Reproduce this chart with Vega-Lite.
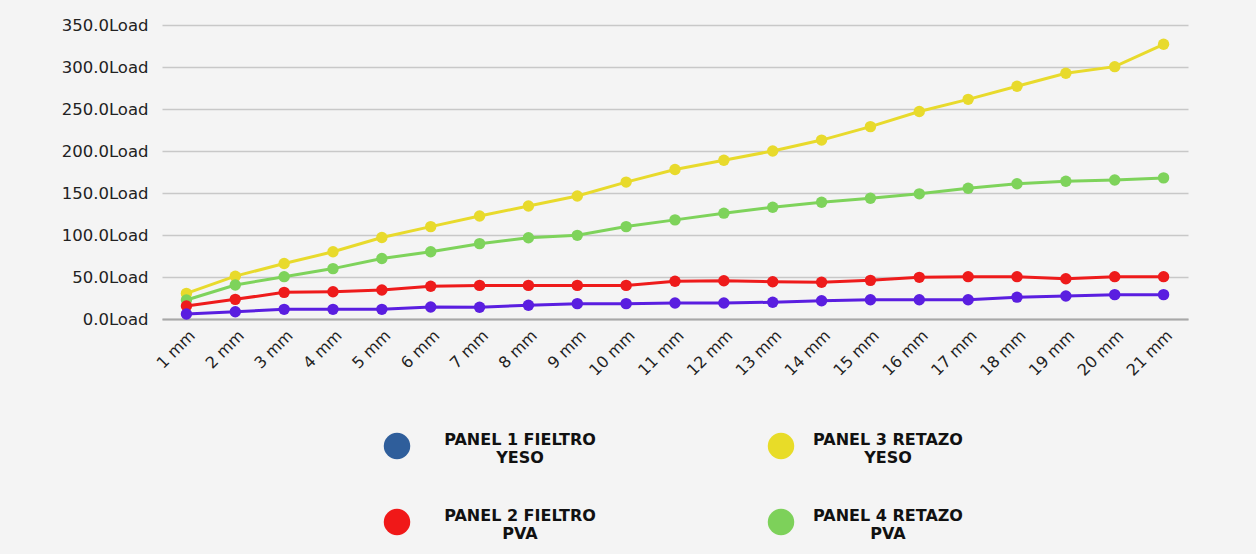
{
  "$schema": "https://vega.github.io/schema/vega-lite/v6.json",
  "width": 1026,
  "height": 294,
  "autosize": {"type": "none"},
  "padding": {"left": 162, "top": 25, "right": 68, "bottom": 235},
  "background": "#f4f4f4",
  "config": {"view": {"stroke": null}, "font": "DejaVu Sans"},
  "datasets": {
    "loads": [
      {"panel": "P3", "d": 1, "v": 30.5}, {"panel": "P3", "d": 2, "v": 51}, {"panel": "P3", "d": 3, "v": 66}, {"panel": "P3", "d": 4, "v": 80}, {"panel": "P3", "d": 5, "v": 97}, {"panel": "P3", "d": 6, "v": 110}, {"panel": "P3", "d": 7, "v": 122.6}, {"panel": "P3", "d": 8, "v": 134.5}, {"panel": "P3", "d": 9, "v": 146.4}, {"panel": "P3", "d": 10, "v": 163}, {"panel": "P3", "d": 11, "v": 178}, {"panel": "P3", "d": 12, "v": 189}, {"panel": "P3", "d": 13, "v": 200}, {"panel": "P3", "d": 14, "v": 213}, {"panel": "P3", "d": 15, "v": 229}, {"panel": "P3", "d": 16, "v": 247}, {"panel": "P3", "d": 17, "v": 261.5}, {"panel": "P3", "d": 18, "v": 277}, {"panel": "P3", "d": 19, "v": 292.5}, {"panel": "P3", "d": 20, "v": 300.4}, {"panel": "P3", "d": 21, "v": 327},
      {"panel": "P4", "d": 1, "v": 22.6}, {"panel": "P4", "d": 2, "v": 40.5}, {"panel": "P4", "d": 3, "v": 50.4}, {"panel": "P4", "d": 4, "v": 60}, {"panel": "P4", "d": 5, "v": 72}, {"panel": "P4", "d": 6, "v": 80}, {"panel": "P4", "d": 7, "v": 89.7}, {"panel": "P4", "d": 8, "v": 96.8}, {"panel": "P4", "d": 9, "v": 99.6}, {"panel": "P4", "d": 10, "v": 110}, {"panel": "P4", "d": 11, "v": 118}, {"panel": "P4", "d": 12, "v": 126}, {"panel": "P4", "d": 13, "v": 133}, {"panel": "P4", "d": 14, "v": 139}, {"panel": "P4", "d": 15, "v": 143.7}, {"panel": "P4", "d": 16, "v": 149}, {"panel": "P4", "d": 17, "v": 155.6}, {"panel": "P4", "d": 18, "v": 161}, {"panel": "P4", "d": 19, "v": 164}, {"panel": "P4", "d": 20, "v": 165.5}, {"panel": "P4", "d": 21, "v": 168},
      {"panel": "P2", "d": 1, "v": 15.5}, {"panel": "P2", "d": 2, "v": 23.4}, {"panel": "P2", "d": 3, "v": 31.7}, {"panel": "P2", "d": 4, "v": 32.5}, {"panel": "P2", "d": 5, "v": 34.5}, {"panel": "P2", "d": 6, "v": 39}, {"panel": "P2", "d": 7, "v": 40}, {"panel": "P2", "d": 8, "v": 40}, {"panel": "P2", "d": 9, "v": 40}, {"panel": "P2", "d": 10, "v": 40}, {"panel": "P2", "d": 11, "v": 45}, {"panel": "P2", "d": 12, "v": 45.6}, {"panel": "P2", "d": 13, "v": 44.4}, {"panel": "P2", "d": 14, "v": 43.7}, {"panel": "P2", "d": 15, "v": 46}, {"panel": "P2", "d": 16, "v": 49.6}, {"panel": "P2", "d": 17, "v": 50.4}, {"panel": "P2", "d": 18, "v": 50.4}, {"panel": "P2", "d": 19, "v": 48}, {"panel": "P2", "d": 20, "v": 50.4}, {"panel": "P2", "d": 21, "v": 50.4},
      {"panel": "P1", "d": 1, "v": 6}, {"panel": "P1", "d": 2, "v": 8.7}, {"panel": "P1", "d": 3, "v": 11.5}, {"panel": "P1", "d": 4, "v": 11.5}, {"panel": "P1", "d": 5, "v": 11.5}, {"panel": "P1", "d": 6, "v": 14.3}, {"panel": "P1", "d": 7, "v": 14}, {"panel": "P1", "d": 8, "v": 16.3}, {"panel": "P1", "d": 9, "v": 18.3}, {"panel": "P1", "d": 10, "v": 18.3}, {"panel": "P1", "d": 11, "v": 19}, {"panel": "P1", "d": 12, "v": 19}, {"panel": "P1", "d": 13, "v": 20}, {"panel": "P1", "d": 14, "v": 21.8}, {"panel": "P1", "d": 15, "v": 23}, {"panel": "P1", "d": 16, "v": 23}, {"panel": "P1", "d": 17, "v": 23}, {"panel": "P1", "d": 18, "v": 26}, {"panel": "P1", "d": 19, "v": 27.4}, {"panel": "P1", "d": 20, "v": 29}, {"panel": "P1", "d": 21, "v": 29}
    ],
    "legend": [
      {"panel": "P1", "label": "PANEL 1 FIELTRO\nYESO", "col": "a", "row": "a"},
      {"panel": "P2", "label": "PANEL 2 FIELTRO\nPVA", "col": "a", "row": "b"},
      {"panel": "P3", "label": "PANEL 3 RETAZO\nYESO", "col": "b", "row": "a"},
      {"panel": "P4", "label": "PANEL 4 RETAZO\nPVA", "col": "b", "row": "b"}
    ]
  },
  "layer": [
    {
      "data": {"name": "loads"},
      "encoding": {
        "x": {
          "field": "d", "type": "ordinal",
          "scale": {"type": "point", "padding": 0.5},
          "axis": {"title": null, "labelExpr": "datum.value + ' mm'", "labelAngle": -45, "ticks": false, "grid": false, "domainColor": "#a8a8a8", "domainWidth": 2, "labelFontSize": 16, "labelColor": "#222222", "labelPadding": 8}
        },
        "y": {
          "field": "v", "type": "quantitative",
          "scale": {"domain": [0, 350], "nice": false},
          "axis": {"title": null, "values": [0, 50, 100, 150, 200, 250, 300, 350], "labelExpr": "format(datum.value, '.1f') + 'Load'", "domain": false, "ticks": false, "gridColor": "#c8c8c8", "gridWidth": 1.5, "labelFontSize": 16.5, "labelColor": "#222222", "labelPadding": 14}
        },
        "color": {
          "field": "panel", "type": "nominal",
          "scale": {"domain": ["P3", "P4", "P2", "P1"], "range": ["#e8da2c", "#7ed35b", "#ee1b1b", "#5a1ee0"]},
          "legend": null
        }
      },
      "layer": [
        {"mark": {"type": "line", "strokeWidth": 3}},
        {"mark": {"type": "circle", "size": 130, "opacity": 1}}
      ]
    },
    {
      "data": {"name": "legend"},
      "mark": {"type": "circle", "size": 700, "opacity": 1},
      "encoding": {
        "x": {"field": "col", "type": "nominal", "scale": {"type": "point", "padding": 0, "range": [235, 619]}, "axis": null},
        "y": {"field": "row", "type": "nominal", "scale": {"type": "point", "padding": 0, "range": [421, 497]}, "axis": null},
        "color": {"field": "panel", "type": "nominal", "scale": {"domain": ["P1", "P2", "P3", "P4"], "range": ["#2f5e9b", "#f01818", "#e8dc28", "#7dd15a"]}, "legend": null}
      }
    },
    {
      "data": {"name": "legend"},
      "mark": {"type": "text", "fontSize": 16, "fontWeight": "bold", "lineBreak": "\n", "align": "center", "baseline": "middle", "color": "#111111", "lineHeight": 18},
      "encoding": {
        "x": {"field": "col", "type": "nominal", "scale": {"type": "point", "padding": 0, "range": [358, 726]}, "axis": null},
        "y": {"field": "row", "type": "nominal", "scale": {"type": "point", "padding": 0, "range": [415, 491]}, "axis": null},
        "text": {"field": "label"}
      }
    }
  ],
  "resolve": {"scale": {"x": "independent", "y": "independent", "color": "independent"}}
}
